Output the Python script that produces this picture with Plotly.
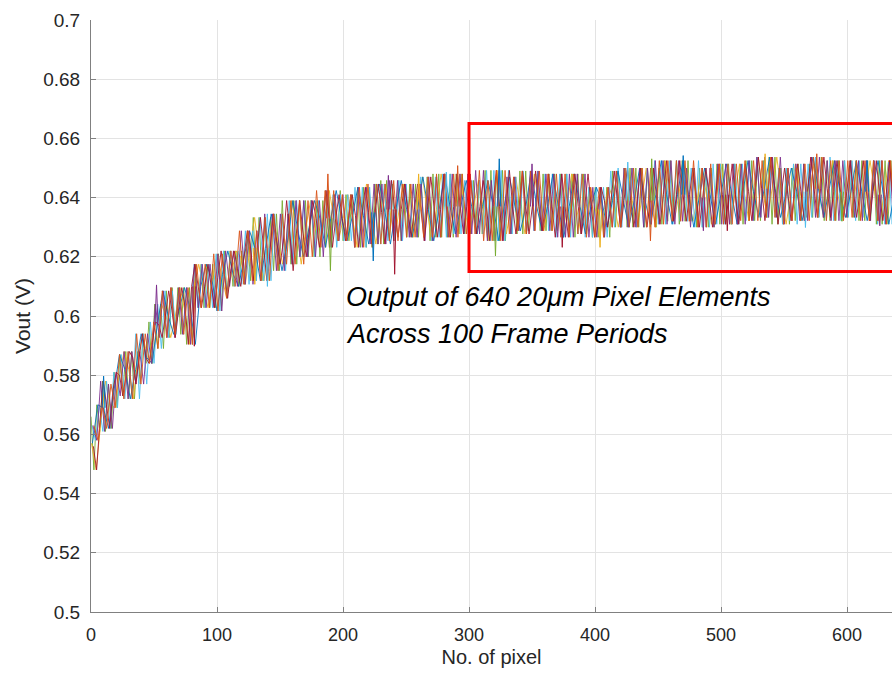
import bisect
import plotly.graph_objects as go

# ---- data (band edges and centre at read positions) ----
pixel = [0, 2, 6, 10, 14, 19, 24, 32, 40, 48, 53, 61, 69, 77, 85, 93, 101, 109, 115,
         122, 136, 148, 162, 175, 188, 200, 215, 228, 241, 255, 268, 281, 294, 302, 323,
         336, 350, 363, 376, 390, 402, 416, 429, 442, 455, 469, 485, 500, 511, 525, 538,
         551, 564, 577, 590, 604, 617, 630, 640]
vout_upper = [0.566, 0.563, 0.570, 0.578, 0.577, 0.581, 0.587, 0.588, 0.594, 0.598, 0.604,
              0.6085, 0.6096, 0.6096, 0.6175, 0.6175, 0.621, 0.622, 0.622,
              0.6288, 0.6333, 0.6345, 0.639, 0.639, 0.6424, 0.641, 0.6435, 0.6446, 0.6458,
              0.6446, 0.647, 0.648, 0.648, 0.6458, 0.6492,
              0.647, 0.649, 0.648, 0.648, 0.648, 0.6435, 0.649, 0.650, 0.650, 0.6525,
              0.6525, 0.650, 0.6514, 0.6514, 0.6525, 0.6537,
              0.650, 0.6514, 0.6537, 0.6525, 0.6525, 0.6525, 0.6525, 0.652]
vout_lower = [0.549, 0.548, 0.558, 0.561, 0.562, 0.569, 0.573, 0.572, 0.577, 0.584, 0.589,
              0.5927, 0.5938, 0.5904, 0.6028, 0.6028, 0.6017, 0.606, 0.610,
              0.6107, 0.6119, 0.6153, 0.6175, 0.620, 0.6232, 0.6254, 0.6232, 0.6243, 0.6254,
              0.6266, 0.6254, 0.6266, 0.6277, 0.6277, 0.6254,
              0.6277, 0.6288, 0.6288, 0.6266, 0.6277, 0.6266, 0.630, 0.630, 0.630, 0.631,
              0.632, 0.630, 0.631, 0.631, 0.6322, 0.6333,
              0.631, 0.6322, 0.6333, 0.6322, 0.6333, 0.6322, 0.631, 0.631]
vout_mean = [0.557, 0.556, 0.564, 0.569, 0.570, 0.575, 0.580, 0.582, 0.586, 0.591, 0.597,
             0.600, 0.602, 0.603, 0.610, 0.610, 0.613, 0.614, 0.616,
             0.620, 0.623, 0.625, 0.628, 0.630, 0.633, 0.633, 0.634, 0.635, 0.636,
             0.636, 0.636, 0.637, 0.637, 0.637, 0.637,
             0.637, 0.637, 0.637, 0.637, 0.637, 0.636, 0.639, 0.639, 0.639, 0.641,
             0.641, 0.640, 0.641, 0.641, 0.642, 0.643,
             0.641, 0.642, 0.643, 0.642, 0.642, 0.642, 0.641, 0.641]
# isolated excursions of single frames
spike_pixel = [10, 52, 82, 130, 140, 188, 190, 224, 236, 241, 260, 282, 291, 321, 324,
               350, 374, 404, 426, 444, 445, 470, 486, 505, 535, 567, 576, 596, 616, 626]
spike_vout = [0.5797, 0.6105, 0.5898, 0.6107, 0.6100, 0.6480, 0.6153, 0.6186, 0.6475,
              0.6141, 0.6480, 0.6486, 0.6508, 0.6203, 0.6531, 0.6514, 0.6232, 0.6232,
              0.6520, 0.6254, 0.6531, 0.6542, 0.6288, 0.6288, 0.6548, 0.6299, 0.6548,
              0.6320, 0.6525, 0.6305]

x_ticks = [0, 100, 200, 300, 400, 500, 600]
y_ticks = [0.5, 0.52, 0.54, 0.56, 0.58, 0.6, 0.62, 0.64, 0.66, 0.68, 0.7]
y_tick_text = ["0.5", "0.52", "0.54", "0.56", "0.58", "0.6", "0.62", "0.64", "0.66", "0.68", "0.7"]
roi_pixel = [300, 640]
roi_vout = [0.615, 0.665]
note_lines = ["Output of 640 20\u03bcm Pixel Elements", "Across 100 Frame Periods"]

colors = ["#0072BD", "#D95319", "#EDB120", "#7E2F8E", "#77AC30", "#4DBEEE", "#A2142F"]

pick_thresholds = [0.5, 0.3, 0.7, 0.2, 0.8, 0.4, 0.6, 0.1, 0.9]


def pick(xv, t):
    # choose one of the two neighbouring read samples (no interpolation)
    i0 = max(0, min(len(pixel) - 2, bisect.bisect_right(pixel, xv) - 1))
    frac = (xv - pixel[i0]) / (pixel[i0 + 1] - pixel[i0])
    return i0 + (1 if frac > pick_thresholds[t % len(pick_thresholds)] else 0)


fig = go.Figure()
# each colour sweeps across the read envelope with its own stride so the strokes interleave
strides = [2.3, 3.7, 2.9, 4.3, 3.1, 2.6, 3.4]
draw_order = [4, 2, 5, 0, 3, 6, 1]
for n, k in enumerate(draw_order):
    if n % 2 == 0:
        pattern = [vout_upper, vout_lower]
    else:
        pattern = [vout_upper, vout_mean, vout_lower, vout_mean]
    xs, ys = [], []
    xv = n * 0.37
    t = n
    while xv <= 640:
        xs.append(xv)
        ys.append(pattern[t % len(pattern)][pick(xv, t * 7 + n)])
        xv += strides[n]
        t += 1
    fig.add_trace(go.Scatter(x=xs, y=ys, mode="lines", line=dict(color=colors[k], width=0.9),
                             showlegend=False, hoverinfo="skip"))

# single-frame spikes
for n, (p, v) in enumerate(zip(spike_pixel, spike_vout)):
    j = pick(p, 0)
    fig.add_trace(go.Scatter(x=[p - 1.2, p, p + 1.2], y=[vout_mean[j], v, vout_mean[j]],
                             mode="lines", line=dict(color=colors[(n * 3) % 7], width=1),
                             showlegend=False, hoverinfo="skip"))

fig.add_shape(type="rect", xref="x", yref="y", x0=roi_pixel[0], x1=roi_pixel[1],
              y0=roi_vout[0], y1=roi_vout[1], line=dict(color="#ff0000", width=3))

for i, t in enumerate(note_lines):
    fig.add_annotation(x=201, y=0.6063 - i * 0.0125, xref="x", yref="y",
                       text="<i>" + t + "</i>",
                       showarrow=False, xanchor="left", yanchor="middle",
                       font=dict(family="Liberation Sans, Arial", size=27, color="#000000"))

axis_common = dict(showgrid=True, gridcolor="#e3e3e3", gridwidth=1, zeroline=False,
                   showline=True, linecolor="#808080", linewidth=1,
                   ticks="inside", ticklen=5, tickcolor="#808080", mirror=False)

fig.update_layout(
    width=892, height=677,
    margin=dict(l=91, r=0, t=20, b=65),
    paper_bgcolor="white", plot_bgcolor="white",
    xaxis=dict(range=[0, 635.7], tickvals=x_ticks, ticklabelstandoff=6,
               tickfont=dict(family="Liberation Sans, Arial", size=18, color="#262626"),
               title=dict(text="No. of pixel", standoff=6,
                          font=dict(family="Liberation Sans, Arial", size=20, color="#262626")),
               **axis_common),
    yaxis=dict(range=[0.5, 0.7], tickvals=y_ticks, ticktext=y_tick_text, ticklabelstandoff=6,
               tickfont=dict(family="Liberation Sans, Arial", size=19, color="#262626"),
               title=dict(text="Vout (V)", standoff=6,
                          font=dict(family="Liberation Sans, Arial", size=21, color="#262626")),
               **axis_common),
)

fig.write_html("out.html", config={"displayModeBar": False},
               post_script="document.body.style.margin='0';document.body.style.overflow='hidden';")
